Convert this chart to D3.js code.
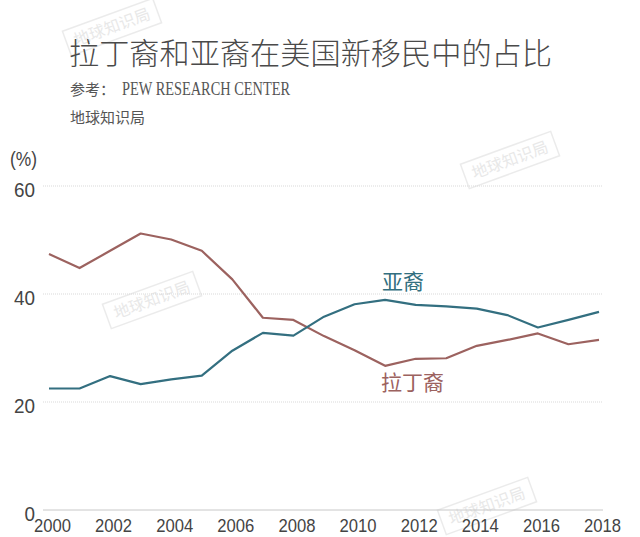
<!DOCTYPE html>
<html><head><meta charset="utf-8">
<script src="https://cdn.jsdelivr.net/npm/d3@7"></script>
<style>
html,body{margin:0;padding:0;background:#fff;}
svg{display:block;}
</style></head>
<body>
<svg id="chart" width="640" height="537"></svg>
<script>
const years = [2000,2001,2002,2003,2004,2005,2006,2007,2008,2009,2010,2011,2012,2013,2014,2015,2016,2017,2018];
const latino = [47.4,44.8,48.0,51.2,50.1,48.0,42.7,35.6,35.2,32.2,29.6,26.7,28.0,28.1,30.4,31.5,32.7,30.7,31.5];
const asian  = [22.5,22.5,24.8,23.3,24.2,24.9,29.5,32.8,32.3,35.8,38.1,38.9,38.0,37.7,37.3,36.1,33.8,35.2,36.7];
const yTicks = [0,20,40,60];
const xTicks = [2000,2002,2004,2006,2008,2010,2012,2014,2016,2018];
const seriesNames = ["拉丁裔","亚裔"];
const titleText = "拉丁裔和亚裔在美国新移民中的占比";
const sourceLabel = "参考：";
const sourceText = "PEW RESEARCH CENTER";
const brandText = "地球知识局";

const svg = d3.select("#chart");
const cjk = "'Noto Sans CJK SC','Noto Sans',sans-serif";
const num = "'Liberation Sans',Arial,sans-serif";
const serif = "'Liberation Serif','DejaVu Serif',serif";

const x = d3.scaleLinear().domain([2000,2018]).range([49,599]);
const y = d3.scaleLinear().domain([0,60]).range([510,186]);

// watermarks
const wm = [[152,300],[510,160],[487,506],[112,27]];
wm.forEach(([cx,cy])=>{
  const g = svg.append("g").attr("transform",`translate(${cx},${cy}) rotate(-20)`).attr("opacity",0.55);
  g.append("rect").attr("x",-48).attr("y",-13).attr("width",96).attr("height",26)
   .attr("fill","none").attr("stroke","#dcdcdc").attr("stroke-width",1.5);
  g.append("text").attr("text-anchor","middle").attr("dy","0.35em")
   .attr("font-family",cjk).attr("font-size",16).attr("fill","#d6d6d6").text(brandText);
});

// title
svg.append("text").attr("x",69).attr("y",64).attr("font-family",cjk).attr("font-size",30)
  .attr("fill","#4a4a4a").attr("font-weight",300).attr("textLength",483).attr("lengthAdjust","spacingAndGlyphs")
  .text(titleText);
svg.append("text").attr("x",70).attr("y",95).attr("font-family",cjk).attr("font-size",15)
  .attr("fill","#555").text(sourceLabel);
svg.append("text").attr("x",122).attr("y",95).attr("font-family",serif).attr("font-size",18)
  .attr("fill","#555").attr("textLength",168).attr("lengthAdjust","spacingAndGlyphs").text(sourceText);
svg.append("text").attr("x",70).attr("y",123).attr("font-family",cjk).attr("font-size",15)
  .attr("fill","#555").text(brandText);

// grid
const grid = svg.append("g");
yTicks.forEach(t=>{
  grid.append("line").attr("x1",43).attr("x2",603).attr("y1",y(t)).attr("y2",y(t))
    .attr("stroke", t===0 ? "#c8c8c8" : "#d9d9d9").attr("stroke-width",1)
    .attr("stroke-dasharray", t===0 ? null : "1,1");
});

// y axis labels
const yAxis = d3.axisLeft(y).tickValues(yTicks).tickSize(0).tickPadding(0).tickFormat(d3.format("d"));
const ya = svg.append("g").attr("transform","translate(35,3)").call(yAxis);
ya.select(".domain").remove();
ya.selectAll("text").attr("font-family",num).attr("font-size",21).attr("fill","#444").attr("dy","0.35em")
  .attr("textLength",function(){return this.textContent.length*10.5;}).attr("lengthAdjust","spacingAndGlyphs");
svg.append("text").attr("x",10).attr("y",166).attr("font-family",num).attr("font-size",20)
  .attr("fill","#444").attr("textLength",27).attr("lengthAdjust","spacingAndGlyphs").text("(%)");

// x axis labels
const xAxis = d3.axisBottom(x).tickValues(xTicks).tickSize(0).tickPadding(0).tickFormat(d3.format("d"));
const xa = svg.append("g").attr("transform","translate(3,518)").call(xAxis);
xa.select(".domain").remove();
xa.selectAll("text").attr("font-family",num).attr("font-size",19).attr("fill","#444").attr("dy","0.71em")
  .attr("textLength",37).attr("lengthAdjust","spacingAndGlyphs");

// lines
const line = d3.line().x((d,i)=>x(years[i])).y(d=>y(d));
svg.append("path").datum(latino).attr("d",line).attr("fill","none")
  .attr("stroke","#9c625f").attr("stroke-width",2.2).attr("stroke-linejoin","round");
svg.append("path").datum(asian).attr("d",line).attr("fill","none")
  .attr("stroke","#336f80").attr("stroke-width",2.2).attr("stroke-linejoin","round");

// labels
svg.append("text").attr("x",382).attr("y",289).attr("font-family",cjk).attr("font-size",21)
  .attr("fill","#336f80").text(seriesNames[1]);
svg.append("text").attr("x",381).attr("y",390).attr("font-family",cjk).attr("font-size",21)
  .attr("fill","#9c625f").text(seriesNames[0]);
</script>
</body></html>
